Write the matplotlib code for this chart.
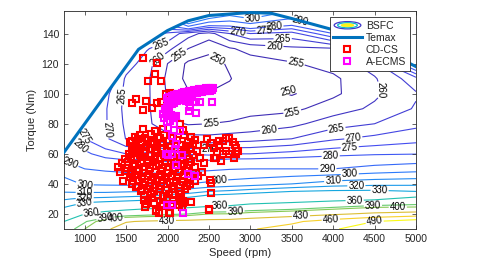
import numpy as np
import matplotlib
matplotlib.use("Agg")
import matplotlib.pyplot as plt
from matplotlib.colors import LinearSegmentedColormap
from matplotlib.patches import Polygon, Ellipse
from matplotlib.legend_handler import HandlerBase
from matplotlib.lines import Line2D

plt.rcParams['font.family'] = ['Liberation Sans', 'DejaVu Sans']

# ---------------- data ----------------
map_speed = [750, 1000, 1250, 1500, 1750, 2000, 2250, 2500, 2750, 3000, 3500, 4000, 4500, 5000]
map_torque = [10, 15, 20, 25, 30, 35, 40, 50, 60, 70, 80, 90, 100, 110, 120, 130, 140, 150, 160]
# BSFC (g/kWh), one row per torque value, one column per speed value
bsfc = [
    [380, 400, 425, 445, 450, 455, 455, 455, 456, 458, 470, 485, 520, 540],          # 10
    [360, 388, 410, 428, 433, 436, 438, 440, 441, 446, 455, 473, 490, 505],          # 15
    [343, 360, 369, 377, 382, 386, 390, 400, 401, 408, 417, 425.7, 436, 442],        # 20
    [328, 338.5, 342, 345, 350, 352, 354, 360, 362, 367.5, 373, 385, 395, 396.7],    # 25
    [319, 322, 323, 324.5, 326, 330, 334, 341, 343, 345, 348, 350.6, 355.4, 370],    # 30
    [309, 308, 308, 309, 310, 312, 315, 320, 322, 325, 330, 331.9, 332.3, 330],      # 35
    [304, 299, 298.5, 298, 298.5, 299, 300, 302, 304, 305.7, 310, 315, 317, 317.7],  # 40
    [295, 290, 288.5, 287.5, 287, 285.7, 288, 288.3, 289.5, 290, 290, 290, 293.3, 295.7],  # 50
    [286, 281.5, 277, 275, 276, 273.8, 274.5, 273.8, 275, 275, 276.7, 278.3, 279.2, 279.7],  # 60
    [284, 275, 271, 264.8, 263, 262, 262, 261.7, 262.5, 263, 265, 269.3, 271.5, 273.3],  # 70
    [290, 271, 270.5, 264, 261, 257, 254.5, 255, 255.5, 256.5, 258.6, 262.8, 265, 268.6],  # 80
    [296, 276, 270.5, 263.5, 261, 255, 252, 251.5, 252.5, 253.5, 253.8, 257.5, 261, 265.5],  # 90
    [302, 282, 271.5, 263.5, 261, 254.5, 250.5, 250.2, 251, 252.5, 249.5, 254, 259, 264.5],  # 100
    [308, 288, 276, 264, 261, 254, 248.5, 248.5, 249.8, 252, 251.5, 254, 259.5, 268],  # 110
    [314, 294, 282, 268, 262, 255, 249, 248.5, 250.5, 253, 254.5, 257, 262.5, 290],  # 120
    [320, 300, 288, 274, 265.5, 261.5, 255, 251, 254.5, 256.5, 259, 259.5, 272, 310],  # 130
    [326, 306, 294, 280, 272, 269, 262, 258, 265, 270, 268, 280, 300, 330],          # 140
    [332, 312, 300, 287, 280, 290, 320, 300, 295, 300, 290, 310, 320, 350],          # 150
    [338, 318, 306, 294, 288, 310, 330, 340, 320, 320, 310, 330, 340, 370],          # 160
]
bsfc_levels = [250, 255, 260, 265, 270, 275, 280, 290, 300, 310, 320, 330, 360, 390, 400, 430, 460, 490]

temax_speed = [750, 1650, 2000, 2250, 2500, 3000, 3250, 3500, 4000, 4500, 5000]
temax_torque = [61, 129.5, 142, 148.5, 152, 154, 153.5, 150, 142.5, 132, 118]

cdcs_points = [
    (1706, 123.6), (1867, 120.3), (1843, 112.9), (1766, 108.3), (1916, 108.3), (1625, 96.5),
    (1577, 93.8), (1746, 95.3), (1702, 88.9), (1818, 90.7), (1871, 93.8), (1920, 94.2),
    (1980, 100), (2029, 100.7), (1698, 76.2), (1851, 75.1), (1940, 76.2), (2150, 80), (2190, 76),
    (1545, 68), (1557, 57.3), (1407, 51.1), (1424, 48), (1467, 42.2), (1516, 50.7), (1490, 48.7),
    (1577, 46.7), (1577, 39.6), (1617, 37.8), (1685, 35.6), (1718, 32.9), (1710, 29.1), (1770, 29.6),
    (1726, 24.5), (1860, 21.8), (1891, 20.7), (1940, 26.7), (2033, 20.7), (2174, 24.7), (2283, 28),
    (2186, 28.4), (2500, 23.6), (2529, 34), (2525, 40.7), (2275, 39.6), (1811, 30.7), (1879, 32.5),
    (1940, 31.8), (1738, 26.4), (1860, 22.5), (1920, 25.1), (2021, 20.7), (2142, 26.2), (2162, 28.9),
    (2505, 22.9),
    (1612, 71.2), (1668, 72.6), (1731, 70.8), (1795, 73.1), (1884, 71.5), (1957, 72.8), (2071, 70.6), (2203, 72.2), (2288, 71.0),
    (1566, 68.4), (1641, 69.7), (1694, 67.9), (1762, 69.3), (1826, 68.1), (1905, 70.2), (1988, 68.6), (2118, 69.4), (2247, 67.8), (2331, 69.1),
    (1596, 65.2), (1683, 66.7), (1745, 64.6), (1812, 66.3), (1868, 65.0), (1947, 66.9), (2036, 64.8), (2158, 66.2), (2226, 65.4), (2305, 66.8),
    (1575, 62.6), (1624, 63.9), (1713, 62.1), (1785, 63.5), (1846, 62.8), (1925, 63.7), (2004, 61.9), (2096, 63.3), (2193, 62.4), (2276, 63.8), (2355, 62.2),
    (1536, 59.8), (1604, 60.9), (1663, 59.2), (1727, 60.4), (1806, 59.5), (1877, 60.7), (1963, 59.1), (2047, 60.6), (2134, 59.7), (2218, 60.3), (2312, 59.4),
    (1487, 56.3), (1562, 57.6), (1637, 56.8), (1704, 57.9), (1766, 56.1), (1843, 57.4), (1914, 56.6), (1996, 57.8), (2083, 56.2), (2164, 57.3), (2257, 56.7), (2395, 57.2),
    (1452, 53.7), (1527, 54.8), (1606, 53.2), (1683, 54.4), (1747, 53.9), (1824, 54.6), (1893, 53.1), (1968, 54.9), (2043, 53.6), (2117, 54.3), (2204, 53.4), (2286, 54.7), (2446, 53.8),
    (1503, 50.6), (1583, 51.7), (1654, 50.2), (1716, 51.4), (1793, 50.8), (1857, 51.9), (1934, 50.4), (2013, 51.2), (2087, 50.7), (2173, 51.6), (2236, 50.3), (2327, 51.3),
    (1563, 47.6), (1627, 48.8), (1704, 47.2), (1776, 48.4), (1853, 47.9), (1916, 48.6), (2003, 47.4), (2064, 48.3), (2137, 47.7), (2224, 48.5), (2306, 47.3), (2417, 48.1),
    (1544, 44.7), (1613, 45.6), (1686, 44.3), (1763, 45.4), (1827, 44.9), (1904, 45.8), (1966, 44.6), (2053, 45.2), (2117, 44.4), (2194, 45.7), (2266, 44.8), (2364, 45.3),
    (1584, 41.6), (1646, 42.7), (1724, 41.3), (1797, 42.4), (1873, 41.8), (1936, 42.9), (2024, 41.5), (2097, 42.2), (2183, 41.4), (2246, 42.6), (2334, 41.7), (2518, 42.3),
    (1643, 38.6), (1707, 39.5), (1784, 38.3), (1846, 39.4), (1924, 38.8), (1997, 39.7), (2083, 38.5), (2147, 39.2), (2234, 38.7),
    (1694, 35.7), (1757, 36.4), (1834, 35.5), (1897, 36.6), (1984, 35.9), (2057, 36.3), (2143, 35.6), (2207, 36.5),
    (1797, 33.4), (1884, 32.8), (2013, 33.3), (2086, 32.6), (2164, 33.5),
    (1993, 30.4), (2064, 29.6), (2137, 30.3),
    (1834, 27.3), (2043, 26.8), (2184, 27.4),
    (2560, 57), (2586, 57), (2627, 66), (2627, 68.5), (2666, 68.5), (2707, 70.7), (2747, 70.7),
    (2787, 68), (2810, 66), (2828, 64), (2848, 62), (2830, 60), (2808, 57.3), (2747, 59.6),
    (2700, 62), (2670, 60), (2646, 55.1), (2600, 61), (2560, 64), (2520, 67), (2480, 70), (2440, 66),
]

aecms_points = [
    (1990, 97), (2020, 98), (2050, 98.5), (2080, 99), (2110, 99.5), (2140, 100), (2170, 100.5),
    (2200, 101), (2230, 101.3), (2260, 101.6), (2290, 102), (2320, 102.2), (2350, 102.5), (2380, 102.8),
    (2410, 103), (2440, 103.3), (2470, 103.5), (2500, 103.8), (2530, 104), (2550, 104),
    (2000, 94), (2030, 95), (2060, 96), (2090, 97), (2120, 97.5), (2150, 98), (2180, 98.5), (2210, 99),
    (2240, 99.3), (2270, 99.6), (2300, 100), (2330, 100.3), (2360, 100.6), (2390, 101), (2420, 101.2),
    (2450, 101.5), (2480, 101.8), (2510, 102), (2540, 102.2),
    (1990, 91), (2020, 92), (2050, 93), (2080, 94), (2110, 95), (2140, 95.5), (2170, 96), (2200, 96.5),
    (2240, 97), (2280, 97.5),
    (1970, 90), (1985, 87), (2000, 85), (2015, 88), (2040, 86), (1960, 84), (1995, 81), (2030, 82),
    (2070, 84), (2100, 85), (2000, 77.4), (2081, 79.6), (2150, 75), (2060, 72), (2101, 66.3),
    (2090, 63), (1980, 59.6), (2000, 59.1), (2060, 59.8), (2174, 59.1), (2101, 52.9),
    (2247, 46.9), (2335, 45.1), (1996, 25.8), (2060, 26), (2182, 20.7),
    (2222, 95.2), (2262, 94.5), (2303, 94.5), (2343, 94.5), (2396, 94.7), (2533, 94.7), (2275, 91.1),
    (2262, 88.5), (2343, 87.4), (2081, 85.1), (1940, 86.2),
]

label_positions = [
    (3030, 149.6), (3610, 149.6), (3290, 145), (3170, 143), (2845, 140.7), (3390, 136), (3290, 132),
    (3550, 120.7), (2625, 126), (3420, 106), (1920, 133), (1880, 123), (2142, 126), (1415, 98.5),
    (1232, 76), (1050, 73), (960, 66), (830, 55), (1000, 39), (1000, 34), (1000, 30.7), (1000, 27),
    (1080, 21.7), (1250, 17.3), (1370, 17.3), (1993, 16), (2524, 80), (2505, 65), (3230, 74),
    (3510, 87), (4620, 103), (4040, 76.5), (4240, 72), (4200, 64), (3970, 58.4), (3930, 50),
    (4200, 46.7), (4000, 41.5), (4280, 38.5), (4560, 35.5), (4260, 27.5), (4480, 25.5), (4780, 23.5),
    (3610, 18.4), (3970, 17.3), (4500, 15), (2625, 40.7), (2625, 25), (2820, 21.7),
]

# ---------------- styling ----------------
parula = LinearSegmentedColormap.from_list("parula", [
    (0.0, (0.24, 0.15, 0.66)), (0.1, (0.27, 0.30, 0.94)), (0.2, (0.18, 0.47, 0.99)),
    (0.3, (0.10, 0.62, 0.91)), (0.4, (0.05, 0.72, 0.80)), (0.5, (0.19, 0.78, 0.62)),
    (0.6, (0.45, 0.80, 0.39)), (0.7, (0.75, 0.76, 0.17)), (0.8, (0.96, 0.73, 0.23)),
    (0.9, (0.97, 0.84, 0.15)), (1.0, (0.98, 0.98, 0.08))])

W, H = 482, 274
fig = plt.figure(figsize=(W / 100, H / 100), dpi=100)
ax = fig.add_axes([64 / W, 1 - 229 / H, (416 - 64) / W, (229 - 11) / H])

S, T = np.meshgrid(np.array(map_speed, float), np.array(map_torque, float))
Z = np.array(bsfc, float)
cs = ax.contour(S, T, Z, levels=bsfc_levels, cmap=parula, vmin=250, vmax=490,
                linewidths=0.8, zorder=1)
clip = Polygon(list(zip([750] + temax_speed + [5000], [0] + temax_torque + [0])),
               closed=True, transform=ax.transData, facecolor='none', edgecolor='none')
ax.add_patch(clip)
cs.set_clip_path(clip)
ax.clabel(cs, fmt='%d', fontsize=7, colors='k', inline=True, inline_spacing=1,
          manual=label_positions)

ax.plot(temax_speed, temax_torque, color='#0072BD', lw=2.2, zorder=3, solid_joinstyle='miter')

cd = np.array(cdcs_points, float)
ae = np.array(aecms_points, float)
ax.plot(cd[:, 0], cd[:, 1], 's', ms=4.6, mfc='none', mec='#FF0000', mew=1.5, zorder=4)
ax.plot(ae[:, 0], ae[:, 1], 's', ms=4.6, mfc='none', mec='#FF00FF', mew=1.5, zorder=5)

ax.set_xlim(750, 5000)
ax.set_ylim(10, 155)
ax.set_xticks(range(1000, 5001, 500))
ax.set_yticks(range(20, 141, 20))
ax.tick_params(direction='in', top=True, right=True, length=3, width=0.5,
               labelsize=7.5, colors='#262626')
for sp in ax.spines.values():
    sp.set_color('#262626')
    sp.set_linewidth(0.6)
ax.set_xlabel('Speed (rpm)', fontsize=8, color='#262626', labelpad=3)
ax.set_ylabel('Torque (Nm)', fontsize=8, color='#262626', labelpad=3)


class BSFCProxy:
    pass


class HandlerBSFC(HandlerBase):
    def create_artists(self, legend, orig_handle, xdescent, ydescent, width, height, fontsize, trans):
        cx = width / 2 - xdescent
        cy = height / 2 - ydescent
        e1 = Ellipse((cx, cy), width * 0.95, height * 1.0, fill=False,
                     edgecolor=parula(0.05), lw=0.9, transform=trans)
        e2 = Ellipse((cx, cy), width * 0.7, height * 0.7, fill=False,
                     edgecolor=parula(0.4), lw=0.9, transform=trans)
        e3 = Ellipse((cx, cy), width * 0.45, height * 0.42, facecolor=parula(1.0),
                     edgecolor=parula(0.95), lw=0.5, transform=trans)
        return [e1, e2, e3]


h_bsfc = BSFCProxy()
h_temax = Line2D([], [], color='#0072BD', lw=2.2)
h_cd = Line2D([], [], ls='none', marker='s', ms=4.6, mfc='none', mec='#FF0000', mew=1.5)
h_ae = Line2D([], [], ls='none', marker='s', ms=4.6, mfc='none', mec='#FF00FF', mew=1.5)
leg = ax.legend([h_bsfc, h_temax, h_cd, h_ae], ['BSFC', 'Temax', 'CD-CS', 'A-ECMS'],
                handler_map={BSFCProxy: HandlerBSFC()}, loc='upper right',
                fontsize=7.5, frameon=True, fancybox=False, framealpha=1,
                edgecolor='#262626', borderaxespad=0.6, handlelength=2.7,
                labelspacing=0.2, handletextpad=0.4, borderpad=0.35)
leg.get_frame().set_linewidth(0.6)
for t in leg.get_texts():
    t.set_color('#262626')
leg.set_zorder(10)

fig.savefig('out.png', dpi=100)
